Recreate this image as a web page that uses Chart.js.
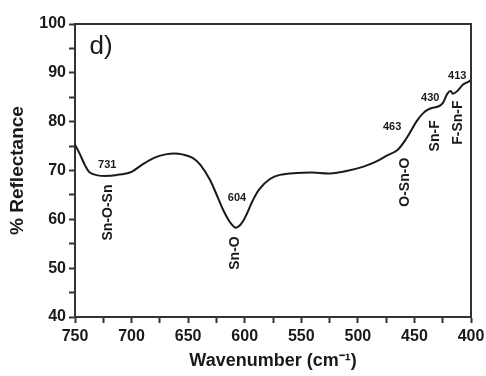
<!DOCTYPE html>
<html>
<head>
<meta charset="utf-8">
<script src="https://cdn.jsdelivr.net/npm/chart.js@4.4.1/dist/chart.umd.min.js"></script>
<style>
  html, body { margin: 0; padding: 0; background: #fff; }
  #wrap { width: 486px; height: 376px; }
</style>
</head>
<body>
<div id="wrap"><canvas id="chart" width="486" height="376"></canvas></div>
<script>
// Spectrum: wavenumber (cm-1) and % reflectance
const wavenumbers = [750, 746, 741, 737, 730, 720, 713, 705, 700, 690, 680, 670, 662, 655, 646, 639, 631, 624, 619, 613, 608, 603, 598, 593, 587, 578, 569, 554, 540, 525, 510, 495, 484, 474, 465, 457, 448, 442, 436, 429, 425, 421, 418, 416, 412, 407, 402, 400];
const reflectance = [75.3, 73.5, 71.0, 69.6, 69.0, 68.9, 69.1, 69.4, 69.7, 71.3, 72.6, 73.3, 73.5, 73.3, 72.6, 71.1, 68.2, 64.6, 61.9, 59.4, 58.3, 59.1, 61.2, 63.8, 66.2, 68.2, 69.1, 69.5, 69.6, 69.4, 69.9, 70.8, 71.8, 73.1, 74.2, 76.6, 80.1, 81.8, 82.7, 83.1, 83.8, 85.7, 86.3, 85.7, 86.3, 87.6, 88.2, 88.5];

// Axis ticks
const xTicks = [750, 700, 650, 600, 550, 500, 450, 400];
const yTicks = [40, 50, 60, 70, 80, 90, 100];

// Peak labels (numbers) and band assignments (rotated)
const peakLabels = ['731', '604', '463', '430', '413'];
const peakWn = [721.5, 606.8, 469.7, 436, 412.2];
const peakVal = [71.2, 64.3, 79.0, 84.9, 89.4];
const bandLabels = ['Sn-O-Sn', 'Sn-O', 'O-Sn-O', 'Sn-F', 'F-Sn-F'];
const bandWn = [720.8, 608.5, 458, 431.7, 411.4];
const bandVal = [61.4, 53.1, 67.6, 77.1, 79.8];

const ink = '#1a1a1a';
const axisColor = '#333';
const fontFamily = '"Liberation Sans", Arial, sans-serif';

const points = wavenumbers.map((w, i) => ({ x: w, y: reflectance[i] }));

// Draw the box frame and the text annotations
const annotations = {
    id: 'annotations',
    afterDraw(chart) {
        const ctx = chart.ctx;
        const area = chart.chartArea;
        const xs = chart.scales.x;
        const ys = chart.scales.y;

        ctx.save();
        ctx.strokeStyle = axisColor;
        ctx.lineWidth = 2;
        ctx.beginPath();
        ctx.moveTo(area.left, area.top);
        ctx.lineTo(area.right, area.top);
        ctx.lineTo(area.right, area.bottom);
        ctx.stroke();

        ctx.fillStyle = ink;
        ctx.textAlign = 'center';
        ctx.textBaseline = 'middle';

        // panel letter
        ctx.font = '26px ' + fontFamily;
        ctx.fillText('d)', area.left + 26, area.top + 23);

        ctx.font = 'bold 11px ' + fontFamily;
        peakLabels.forEach((t, i) => {
            ctx.fillText(t, xs.getPixelForValue(peakWn[i]), ys.getPixelForValue(peakVal[i]));
        });

        ctx.font = 'bold 14px ' + fontFamily;
        bandLabels.forEach((t, i) => {
            ctx.save();
            ctx.translate(xs.getPixelForValue(bandWn[i]), ys.getPixelForValue(bandVal[i]));
            ctx.rotate(-Math.PI / 2);
            ctx.fillText(t, 0, 0);
            ctx.restore();
        });
        ctx.restore();
    }
};

new Chart(document.getElementById('chart'), {
    type: 'line',
    data: {
        datasets: [{
            data: points,
            borderColor: ink,
            borderWidth: 2,
            pointRadius: 0,
            fill: false,
            tension: 0.35
        }]
    },
    options: {
        responsive: false,
        animation: false,
        layout: { padding: { top: 24, right: 15, left: 0, bottom: 0 } },
        plugins: { legend: { display: false }, tooltip: { enabled: false } },
        scales: {
            x: {
                type: 'linear',
                reverse: true,
                min: 400,
                max: 750,
                afterFit: s => { s.height = 59; },
                afterBuildTicks: s => {
                    const t = [];
                    for (let v = 400; v <= 750; v += 25) t.push({ value: v });
                    s.ticks = t;
                },
                ticks: {
                    autoSkip: false,
                    maxRotation: 0,
                    padding: 4,
                    color: ink,
                    font: { family: fontFamily, size: 16, weight: 'bold' },
                    callback: v => xTicks.includes(v) ? String(v) : ''
                },
                grid: { drawOnChartArea: false, tickLength: 6, tickColor: axisColor, tickWidth: 2 },
                border: { color: axisColor, width: 2 },
                title: {
                    display: true,
                    text: 'Wavenumber (cm\u207B\u00B9)',
                    color: ink,
                    padding: { top: 0, bottom: 4 },
                    font: { family: fontFamily, size: 18, weight: 'bold' }
                }
            },
            y: {
                min: 40,
                max: 100,
                afterFit: s => { s.width = 75; },
                afterBuildTicks: s => {
                    const t = [];
                    for (let v = 40; v <= 100; v += 5) t.push({ value: v });
                    s.ticks = t;
                },
                ticks: {
                    autoSkip: false,
                    padding: 3,
                    color: ink,
                    font: { family: fontFamily, size: 16, weight: 'bold' },
                    callback: v => yTicks.includes(v) ? String(v) : ''
                },
                grid: { drawOnChartArea: false, tickLength: 6, tickColor: axisColor, tickWidth: 2 },
                border: { color: axisColor, width: 2 },
                title: {
                    display: true,
                    text: '% Reflectance',
                    color: ink,
                    padding: { top: 6, bottom: 0 },
                    font: { family: fontFamily, size: 19, weight: 'bold' }
                }
            }
        }
    },
    plugins: [annotations]
});
</script>
</body>
</html>
